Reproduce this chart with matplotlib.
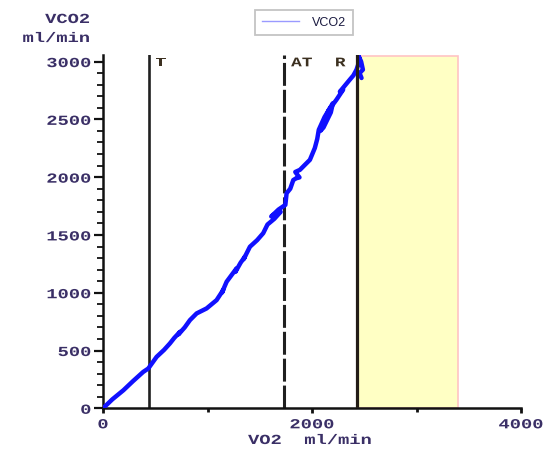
import matplotlib
matplotlib.use("Agg")
import matplotlib.pyplot as plt
from matplotlib.lines import Line2D
from matplotlib.patches import Rectangle
from matplotlib.patheffects import AbstractPathEffect
from matplotlib.transforms import Affine2D
from matplotlib.ticker import MultipleLocator

# VCO2 against VO2 during the exercise test (ml/min)
vo2 = [0, 90, 195, 287, 385, 433, 513, 584, 640, 683, 737, 723, 782, 832, 896,
       991, 1039, 1087, 1150, 1138, 1183, 1228, 1278, 1267, 1317, 1358, 1346,
       1406, 1475, 1533, 1574, 1640, 1700, 1660, 1610, 1680, 1745, 1757, 1792,
       1821, 1848, 1880, 1852, 1840, 1884, 1980, 2027, 2050, 2065, 2120, 2200,
       2180, 2110, 2080, 2100, 2160, 2234, 2298, 2267, 2362, 2396, 2426,
       2458, 2442, 2470, 2487, 2455, 2474]
vco2 = [0, 78, 156, 235, 315, 344, 445, 505, 561, 610, 662, 640, 700, 763, 821,
        864, 900, 936, 1023, 1000, 1095, 1150, 1211, 1180, 1260, 1312, 1290,
        1398, 1455, 1515, 1590, 1640, 1700, 1690, 1660, 1720, 1760, 1861, 1900,
        1975, 1990, 1998, 2030, 2045, 2063, 2150, 2252, 2330, 2410, 2520, 2640,
        2560, 2430, 2400, 2440, 2580, 2670, 2757, 2740, 2844, 2880, 2930,
        3017, 3055, 3000, 2930, 2900, 2858]

# event markers (VO2, ml/min)
marker_names = ["T", "AT", "R"]
marker_vo2 = [443, 1735, 2432]
zone_vo2 = [2432, 3400]
zone_top = 3050

xticks = [0, 2000, 4000]
xtick_labels = ["0", "2000", "4000"]
yticks = [0, 500, 1000, 1500, 2000, 2500, 3000]
ytick_labels = ["0", "500", "1000", "1500", "2000", "2500", "3000"]


class WideText(AbstractPathEffect):
    """Draw text paths stretched horizontally about an anchor."""

    def __init__(self, sx=1.5, anchor="center"):
        super().__init__((0, 0))
        self.sx = sx
        self.anchor = anchor

    def draw_path(self, renderer, gc, tpath, affine, rgbFace=None):
        ext = tpath.get_extents()
        x0 = {"left": ext.x0, "center": 0.5 * (ext.x0 + ext.x1),
              "right": ext.x1}[self.anchor]
        t = Affine2D().translate(-x0, 0).scale(self.sx, 1).translate(x0, 0)
        renderer.draw_path(gc, tpath, t + affine, rgbFace)


W, H = 548, 450
mono = dict(family="Liberation Mono", weight="bold")
label_color = "#3a2f66"
SX = 1.35

fig = plt.figure(figsize=(W / 100, H / 100), dpi=100)
ax = fig.add_axes([103 / W, 1 - 408.3 / H, 418 / W, 353.3 / H])

ax.set_xlim(0, 4000)
ax.set_ylim(0, 3057)

ax.add_patch(Rectangle((zone_vo2[0], 0), zone_vo2[1] - zone_vo2[0], zone_top,
                       facecolor="#ffffc4", edgecolor="#ffc4c4", lw=1.2,
                       zorder=1))

ax.plot(vo2, vco2, color="#1010ff", lw=3.2, solid_joinstyle="round",
        solid_capstyle="round", zorder=3)

ax.axvline(marker_vo2[0], color="#202020", lw=1.9, zorder=2)
ax.axvline(marker_vo2[1], color="#202020", lw=2.2, zorder=2,
           linestyle=(0, (7.5, 1.3)))
ax.axvline(marker_vo2[2], color="#231c16", lw=2.3, zorder=4)

ytop = 2985
text_kw = dict(fontsize=9.5, color="#3c3020", va="center", zorder=5, **mono)
ax.text(marker_vo2[0] + 60, ytop, marker_names[0], ha="left",
        path_effects=[WideText(SX, "left")], **text_kw)
ax.text(marker_vo2[1] + 65, ytop, marker_names[1], ha="left",
        path_effects=[WideText(SX, "left")], **text_kw)
ax.text(marker_vo2[2] - 110, ytop, marker_names[2], ha="right",
        path_effects=[WideText(SX, "right")], **text_kw)

for side in ("top", "right"):
    ax.spines[side].set_visible(False)
for side in ("left", "bottom"):
    ax.spines[side].set_linewidth(1.8)
    ax.spines[side].set_color("#111111")

ax.set_xticks(xticks, xtick_labels)
ax.set_yticks(yticks, ytick_labels)
ax.xaxis.set_minor_locator(MultipleLocator(1000))
ax.yaxis.set_minor_locator(MultipleLocator(100))
ax.tick_params(axis="y", which="major", direction="out", length=6.5,
               width=1.6, color="#111111", pad=2, labelsize=10,
               labelcolor=label_color)
ax.tick_params(axis="y", which="minor", direction="out", length=4.5,
               width=1.3, color="#111111")
ax.tick_params(axis="x", which="major", direction="out", length=3.5,
               width=2.0, color="#111111", pad=3, labelsize=10,
               labelcolor=label_color)
ax.tick_params(axis="x", which="minor", direction="out", length=3.0,
               width=2.0, color="#111111")

for t in ax.yaxis.get_major_ticks(len(yticks)):
    t.label1.set_fontfamily(mono["family"])
    t.label1.set_fontweight("bold")
    t.label1.set_path_effects([WideText(SX, "right")])
for t in ax.xaxis.get_major_ticks(len(xticks)):
    t.label1.set_fontfamily(mono["family"])
    t.label1.set_fontweight("bold")
    t.label1.set_path_effects([WideText(SX, "center")])

# axis titles
fig.text(310 / W, 1 - 440 / H, "VO2  ml/min", fontsize=10, color=label_color,
         ha="center", va="center", path_effects=[WideText(SX, "center")],
         **mono)
fig.text(90 / W, 1 - 19 / H, "VCO2", fontsize=10, color=label_color,
         ha="right", va="center", path_effects=[WideText(SX, "right")], **mono)
fig.text(90 / W, 1 - 38 / H, "ml/min", fontsize=10, color=label_color,
         ha="right", va="center", path_effects=[WideText(SX, "right")], **mono)

handle = Line2D([], [], color="#9a9aff", lw=1.0)
leg = fig.legend([handle], ["VCO2"], loc="center",
                 bbox_to_anchor=(304 / W, 1 - 22.5 / H),
                 prop=dict(family="Liberation Sans", size=9),
                 fancybox=False, framealpha=1, edgecolor="#c4c4c4",
                 handlelength=3.0, handletextpad=1.0, borderpad=0.55,
                 borderaxespad=0)
leg.get_frame().set_linewidth(1.3)
for txt in leg.get_texts():
    txt.set_color("#1a1a40")

fig.savefig("out.png", dpi=100)
